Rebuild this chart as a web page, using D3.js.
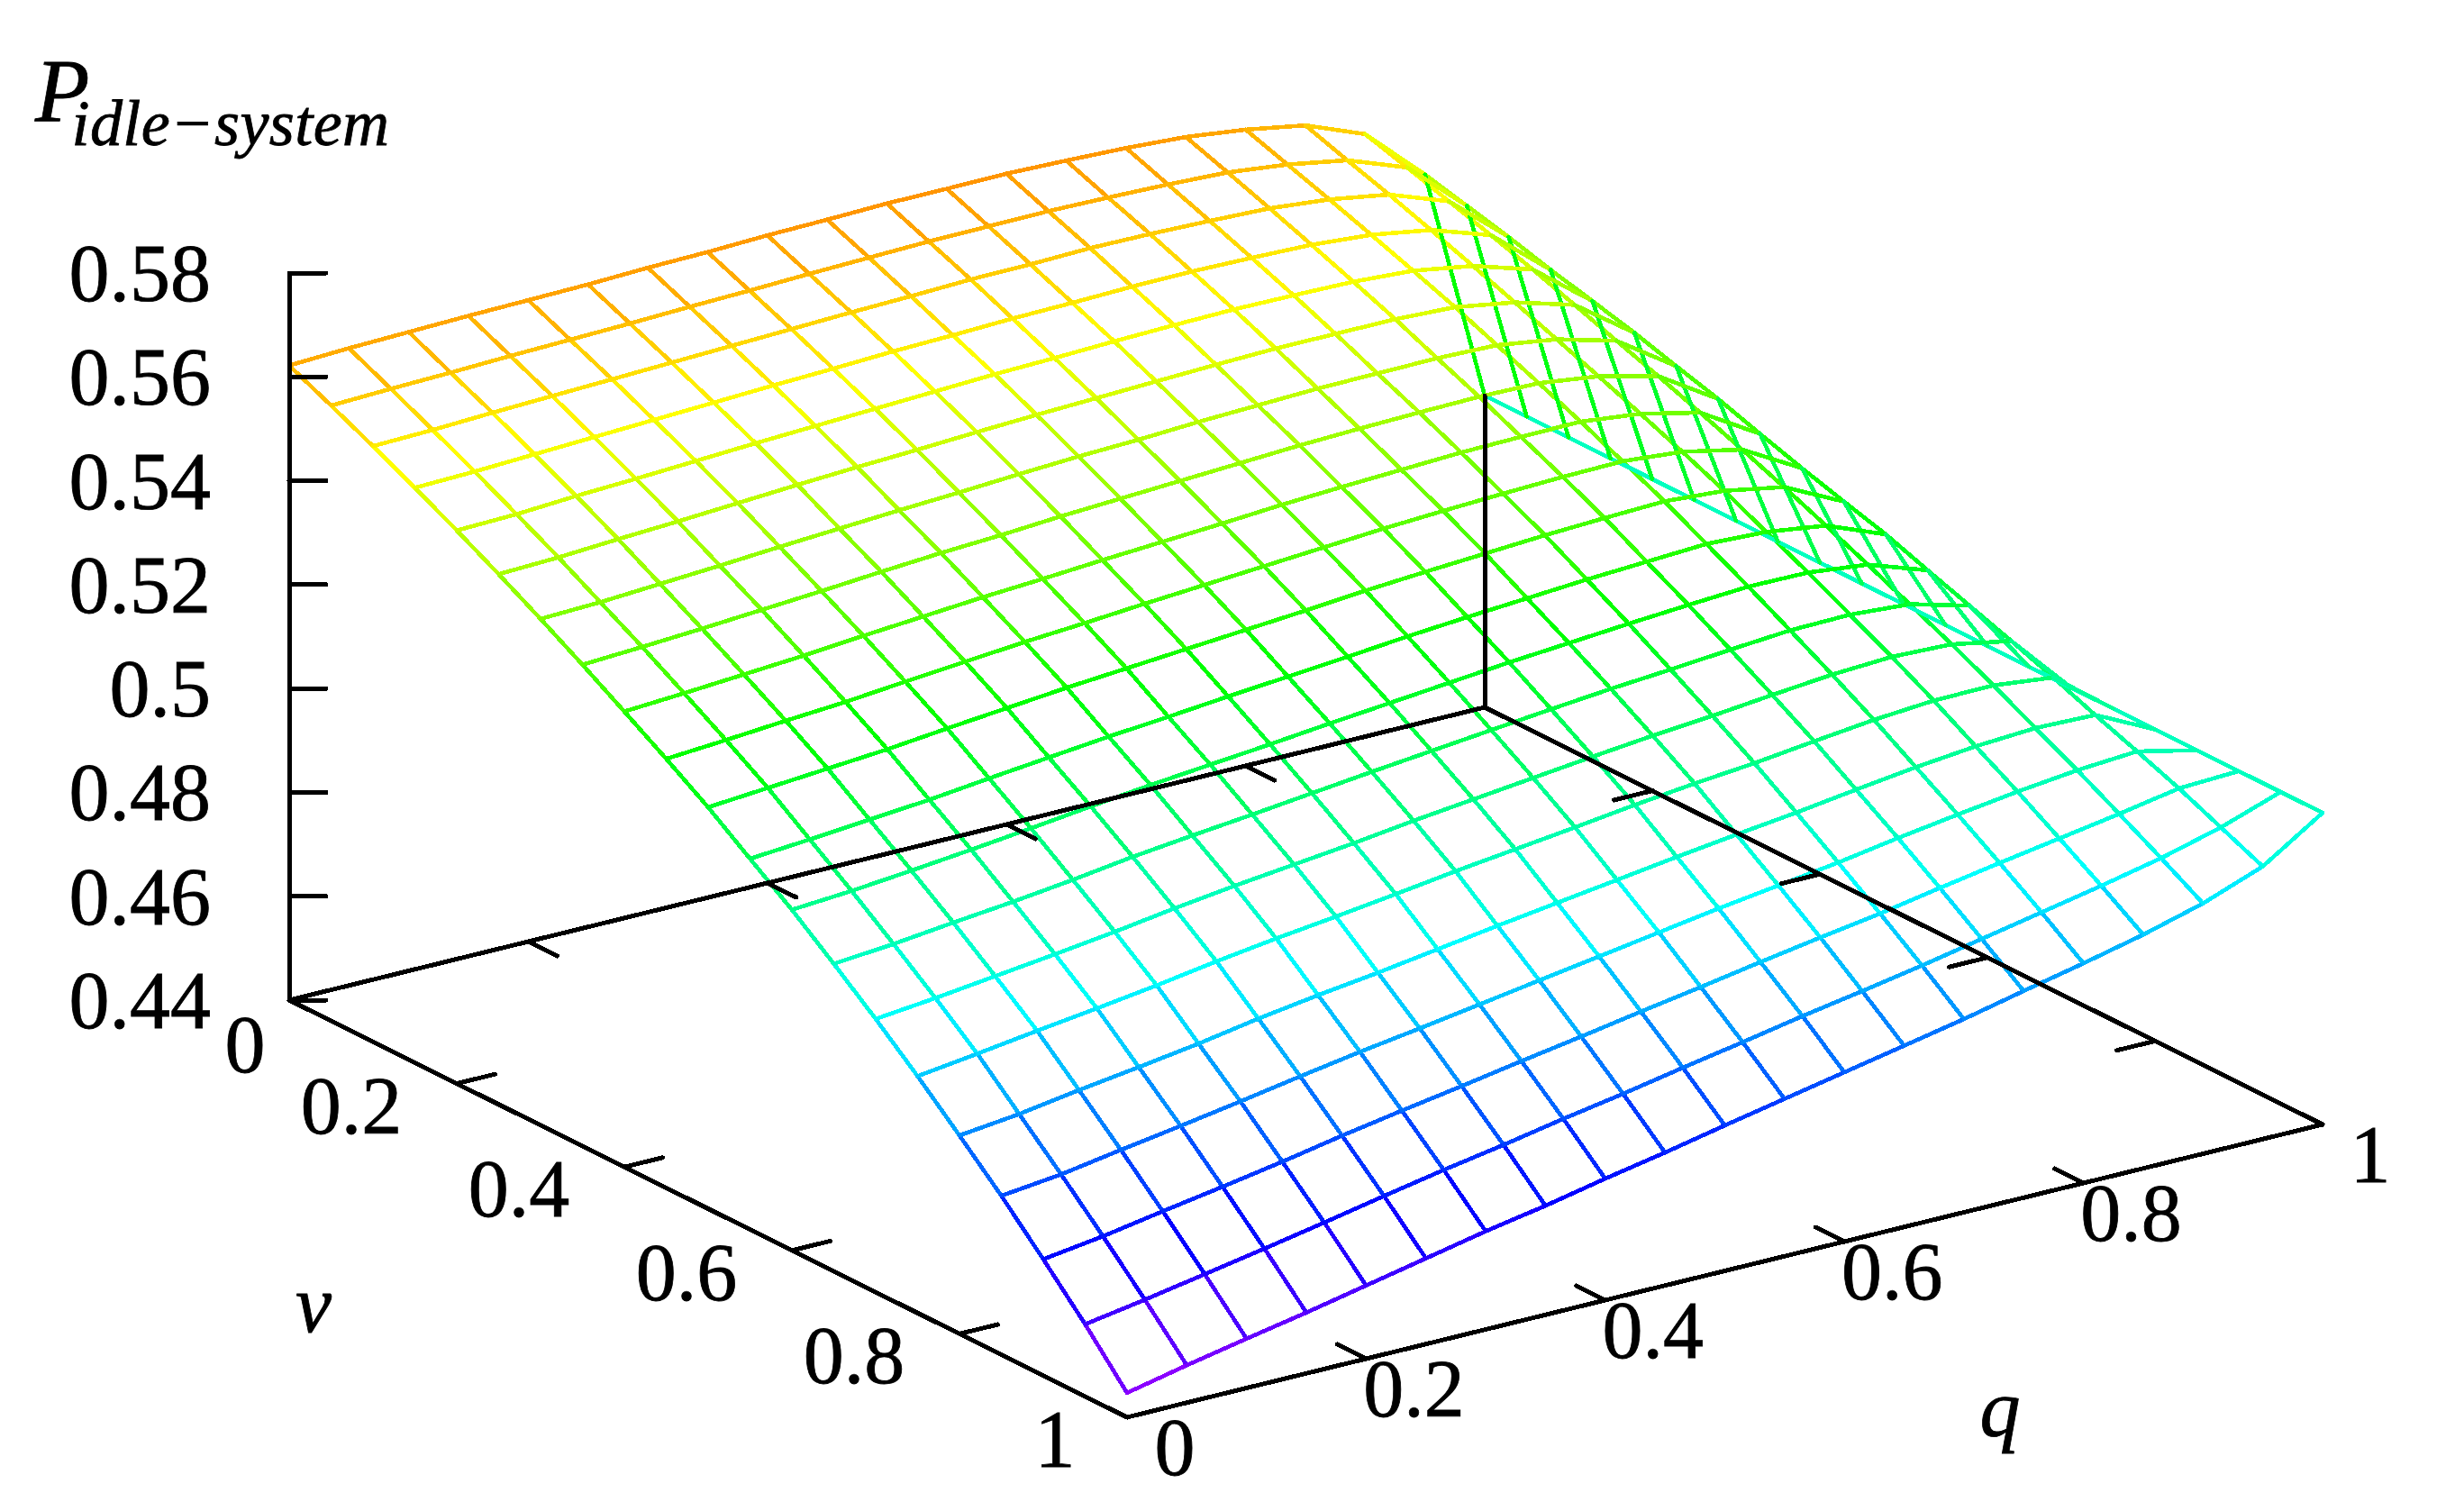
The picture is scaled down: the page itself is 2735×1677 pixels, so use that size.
<!DOCTYPE html>
<html><head><meta charset="utf-8">
<script src="https://cdn.jsdelivr.net/npm/d3@7/dist/d3.min.js"></script>
<style>html,body{margin:0;padding:0;background:#fff}svg{display:block}text{font-family:"Liberation Serif",serif;fill:#000;stroke:#000;stroke-width:.8px}line{shape-rendering:crispEdges}</style>
</head><body><svg id="c" width="2735" height="1677"></svg>
<script>
const qGrid=[0,.05,.1,.15,.2,.25,.3,.35,.4,.45,.5,.55,.6,.65,.7,.75,.8,.85,.9,.95,1];
const vGrid=[0,.05,.1,.15,.2,.25,.3,.35,.4,.45,.5,.55,.6,.65,.7,.75,.8,.85,.9,.95,1];
// z along v for each q column
const zQ00=[.5622,.5585,.5547,.5507,.5465,.5421,.5375,.5327,.5277,.5226,.5173,.5114,.5056,.4992,.4926,.4856,.4782,.4706,.4624,.4539,.4447];
const zQ05=[.5627,.5589,.5550,.5510,.5468,.5425,.5379,.5333,.5284,.5234,.5182,.5123,.5064,.5002,.4938,.4871,.4795,.4719,.4640,.4558,.4472];
const zQ10=[.5630,.5592,.5555,.5515,.5475,.5432,.5386,.5340,.5292,.5243,.5191,.5133,.5075,.5015,.4952,.4887,.4813,.4738,.4660,.4579,.4495];
const zQ15=[.5633,.5596,.5559,.5520,.5480,.5438,.5393,.5348,.5300,.5251,.5200,.5143,.5087,.5027,.4966,.4902,.4829,.4756,.4679,.4600,.4517];
const zQ20=[.5635,.5599,.5563,.5525,.5486,.5445,.5401,.5356,.5310,.5262,.5212,.5156,.5100,.5041,.4981,.4918,.4846,.4775,.4699,.4622,.4541];
const zQ25=[.5637,.5602,.5567,.5530,.5492,.5452,.5408,.5365,.5319,.5272,.5223,.5168,.5114,.5057,.4998,.4936,.4866,.4795,.4721,.4645,.4565];
const zQ30=[.5641,.5606,.5571,.5535,.5497,.5458,.5415,.5373,.5328,.5282,.5234,.5180,.5127,.5070,.5013,.4952,.4883,.4814,.4741,.4667,.4589];
const zQ35=[.5643,.5609,.5575,.5539,.5502,.5463,.5421,.5379,.5335,.5290,.5243,.5190,.5138,.5082,.5026,.4966,.4898,.4831,.4760,.4687,.4610];
const zQ40=[.5647,.5613,.5579,.5544,.5507,.5469,.5428,.5387,.5343,.5299,.5252,.5201,.5149,.5095,.5039,.4981,.4915,.4849,.4780,.4709,.4634];
const zQ45=[.5649,.5616,.5582,.5547,.5512,.5474,.5434,.5393,.5350,.5307,.5261,.5211,.5161,.5108,.5054,.4997,.4932,.4867,.4799,.4729,.4656];
const zQ50=[.5652,.5619,.5586,.5551,.5515,.5478,.5438,.5399,.5357,.5315,.5270,.5221,.5172,.5120,.5067,.5011,.4948,.4885,.4819,.4751,.4680];
const zQ55=[.5652,.5620,.5587,.5553,.5519,.5482,.5444,.5405,.5365,.5323,.5280,.5232,.5183,.5132,.5080,.5025,.4964,.4903,.4838,.4772,.4703];
const zQ60=[.5653,.5621,.5590,.5556,.5522,.5486,.5448,.5411,.5371,.5331,.5288,.5241,.5194,.5144,.5093,.5040,.4980,.4921,.4858,.4794,.4726];
const zQ65=[.5650,.5619,.5589,.5557,.5524,.5489,.5452,.5415,.5376,.5337,.5295,.5249,.5203,.5155,.5105,.5053,.4995,.4937,.4877,.4814,.4749];
const zQ70=[.5646,.5616,.5586,.5555,.5523,.5489,.5453,.5418,.5381,.5342,.5302,.5257,.5212,.5164,.5115,.5064,.5009,.4953,.4895,.4835,.4772];
const zQ75=[.5639,.5611,.5582,.5552,.5521,.5489,.5454,.5420,.5383,.5346,.5307,.5263,.5220,.5174,.5127,.5078,.5025,.4972,.4916,.4858,.4798];
const zQ80=[.5625,.5598,.5571,.5543,.5514,.5484,.5451,.5418,.5384,.5348,.5311,.5269,.5227,.5183,.5138,.5091,.5040,.4989,.4936,.4881,.4823];
const zQ85=[.5605,.5578,.5552,.5524,.5495,.5465,.5434,.5403,.5371,.5338,.5303,.5264,.5226,.5185,.5144,.5100,.5052,.5005,.4955,.4904,.4850];
const zQ90=[.5560,.5536,.5511,.5486,.5460,.5432,.5403,.5375,.5345,.5314,.5282,.5248,.5213,.5177,.5140,.5101,.5059,.5018,.4974,.4929,.4882];
const zQ95=[.5454,.5434,.5414,.5391,.5371,.5350,.5326,.5303,.5276,.5250,.5226,.5203,.5174,.5146,.5118,.5088,.5056,.5026,.4995,.4960,.4925];
const zQ100=[.50,.50,.50,.50,.50,.50,.50,.50,.50,.50,.50,.50,.50,.50,.50,.50,.50,.50,.50,.50,.50];
const zColumns=[zQ00,zQ05,zQ10,zQ15,zQ20,zQ25,zQ30,zQ35,zQ40,zQ45,zQ50,zQ55,zQ60,zQ65,zQ70,zQ75,zQ80,zQ85,zQ90,zQ95,zQ100];
const zTicks=[.44,.46,.48,.5,.52,.54,.56,.58];
const zTickLabels=["0.44","0.46","0.48","0.5","0.52","0.54","0.56","0.58"];
const qTicks=[0,.2,.4,.6,.8,1], qTickLabels=["0","0.2","0.4","0.6","0.8","1"];
const vTicks=[0,.2,.4,.6,.8,1], vTickLabels=["0","0.2","0.4","0.6","0.8","1"];

const svg=d3.select("#c");
const X0=321,Y0=1110;
const qx=d3.scaleLinear([0,1],[0,1327]), qy=d3.scaleLinear([0,1],[0,-325]);
const vx=d3.scaleLinear([0,1],[0,930]),  vy=d3.scaleLinear([0,1],[0,463]);
const zy=d3.scaleLinear([.44,.58],[0,-807]);
const hue=d3.scaleLinear([.4624,.5226],[240,120]);
const colour=z=>d3.hsl(hue(z),1,.5).formatHex();
const P=(q,v,z)=>[X0+qx(q)+vx(v), Y0+qy(q)+vy(v)+zy(z)];

// mesh segments
const segs=[];
qGrid.forEach((q,j)=>{vGrid.forEach((v,i)=>{ if(i<20) segs.push({a:[q,v,zColumns[j][i]],b:[q,vGrid[i+1],zColumns[j][i+1]]}); });});
vGrid.forEach((v,i)=>{qGrid.forEach((q,j)=>{ if(j<20) segs.push({a:[q,v,zColumns[j][i]],b:[qGrid[j+1],v,zColumns[j+1][i]]}); });});
svg.append("g").attr("fill","none").attr("stroke-width",4.6).attr("stroke-linecap","round")
 .selectAll("line").data(segs).join("line")
 .attr("x1",d=>P(...d.a)[0]).attr("y1",d=>P(...d.a)[1])
 .attr("x2",d=>P(...d.b)[0]).attr("y2",d=>P(...d.b)[1])
 .attr("stroke",d=>colour((d.a[2]+d.b[2])/2));

// axes
const ax=svg.append("g").attr("stroke","#000").attr("stroke-width",5).attr("stroke-linecap","round");
const L=(a,b)=>ax.append("line").attr("x1",a[0]).attr("y1",a[1]).attr("x2",b[0]).attr("y2",b[1]);
const zb=.44;
L(P(0,0,zb),P(1,0,zb));L(P(0,0,zb),P(0,1,zb));L(P(0,1,zb),P(1,1,zb));L(P(1,0,zb),P(1,1,zb));
L(P(0,0,zb),P(0,0,.58));L(P(1,0,zb),P(1,0,.5));
zTicks.forEach(z=>{const p=P(0,0,z);L(p,[p[0]+41,p[1]]);});
qTicks.slice(1,-1).forEach(q=>{L(P(q,0,zb),P(q,.0345,zb));L(P(q,1,zb),P(q,1-.0345,zb));});
vTicks.slice(1,-1).forEach(v=>{L(P(0,v,zb),P(.032,v,zb));L(P(1,v,zb),P(1-.032,v,zb));});

// labels
const T=(x,y,s,o={})=>svg.append("text").attr("x",x).attr("y",y).attr("font-size",o.size||90)
 .attr("text-anchor",o.anchor||"middle").attr("font-style",o.italic?"italic":null).text(s);
const mid=31;
zTicks.forEach((z,k)=>{const p=P(0,0,z);T(234,p[1]+mid,zTickLabels[k],{anchor:"end"});});
vTicks.forEach((v,k)=>{const p=P(0,v,zb);const s=vTickLabels[k];
  const dx=s.length>1?-117:(v===0?-49:-80), dy=v===0?49:24;
  T(p[0]+dx,p[1]+dy+mid,s);});
qTicks.forEach((q,k)=>{const p=P(q,1,zb);T(p[0]+53,p[1]+33+mid,qTickLabels[k]);});
T(348,1478,"v",{italic:true});
T(2220,1594,"q",{italic:true});
const title=T(39,134,"",{italic:true,anchor:"start",size:99});
title.append("tspan").text("P");
title.append("tspan").attr("dx",-20).attr("dy",27).attr("font-size",72).attr("letter-spacing",.4).text("idle\u2212system");
</script></body></html>
